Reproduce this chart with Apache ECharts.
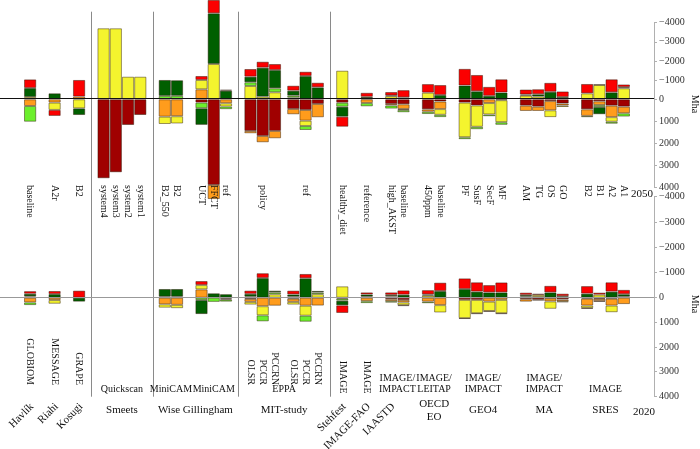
<!DOCTYPE html>
<html><head><meta charset="utf-8">
<script src="https://cdn.jsdelivr.net/npm/echarts/dist/echarts.min.js"></script>
<style>html,body{margin:0;padding:0;background:#fff}#c{width:700px;height:449px}</style>
</head><body><div id="c"></div>
<script>
// ---- structure: b = bar, g = gap, s = gap with separator, h = half gap
const columns = ['b','g','b','g','b','s','b','b','b','b','s','b','b','g','b','b','b','s','b','b','b','h','b','b','b','s','b','g','b','g','b','b','g','b','b','g','b','b','b','b','g','b','b','b','b','g','b','b','b','b'];

// ---- 2050 values (Mha), one entry per bar
const darkRed2050    = [0,0,0, 3590,3318,1168,714, 0,0,150,3895,0, 1440,1668,1440,441,486,213, 155,0,213,227,455,100, 150,280,0,40, 290,335,80,190, 455,90,290,335];
const orange2050     = [305,150,-140, 0,0,0,0, 790,770,-522,640,180, 105,286,333,241,486,605, 0,170,70,212,110,345, 0,0,170,0, 240,195,420,90, 300,170,520,300];
const yellow2050     = [-120,333,410, -3707,-3707,-1180,-1180, 333,330,-486,-1843,150, -695,-136,-365,-84,241,0, -1493,-50,-160,50,-345,260, 1573,970,520,1000, -190,-140,310,70, -310,-747,210,-575];
const lightGreen2050 = [714,0,0, 0,0,0,0, -175,-180,255,0,120, -193,0,-209,-104,182,0, 182,150,140,100,105,105, 90,110,80,120, 0,0,0,0, 60,90,90,150];
const darkGreen2050  = [-470,-313,305, 0,0,0,0, -835,-815,758,-2648,-450, -292,-1514,-955,-261,-1216,-626, 455,-80,-40,-100,0,-225, -720,-420,-180,-355, -60,-125,-390,-120, 0,330,-365,-60];
const red2050        = [-450,273,-870, 0,0,0,0, 0,0,-209,-700,-50, -402,-313,-313,-261,-224,-240, 455,-210,-180,-380,-450,-520, -870,-850,-470,-690, -260,-260,-470,-290, -490,-30,-680,-140];

// ---- 2020 values (Mha)
const darkRed2020    = [0,0,0, 0,0,0,0, 0,0,0,0,0, 50,0,0,40,0,0, 40,0,60,95,0,0, 90,90,0,0, 60,80,20,70, 40,50,40,-40];
const orange2020     = [190,95,0, 0,0,0,0, 270,290,-330,0,40, 120,345,325,130,325,320, 0,140,80,95,160,300, 0,0,160,90, 100,-30,130,70, 280,80,280,260];
const yellow2020     = [-50,150,0, 0,0,0,0, 135,135,-170,0,40, 110,370,-135,110,405,-140, -450,-40,-50,110,-80,300, 740,540,380,540, -40,-80,300,50, 100,-120,270,0];
const lightGreen2020 = [110,0,0, 0,0,0,0, -40,-40,95,170,80, -40,245,-80,-40,245,-70, 80,80,60,40,65,0, 30,30,30,30, 0,0,0,0, 30,40,0,0];
const darkGreen2020  = [-105,-145,160, 0,0,0,0, -305,-305,570,-175,-140, -110,-780,-65,-90,-770,-60, 190,-90,-60,-120,-50,-265, -345,-240,-210,-210, -70,30,-210,-60, -160,0,-240,-100];
const red2020        = [-105,-120,-280, 0,0,0,0, 0,0,-160,0,0, -130,-190,0,-150,-170,0, 310,-80,-100,-170,-170,-330, -420,-370,-290,-395, -90,-50,-260,-100, -300,-80,-370,-170];

// ---- labels
const scenarioLabels2050 = ['baseline','A2r','B2','system4','system3','system2','system1','B2_550','B2','UCT','FFCT','ref','','','','','','','healthy_diet','reference','high_AKST','baseline','450ppm','baseline','PF','SusF','SecF','MF','AM','TG','OS','GO','B2','B1','A2','A1'];
const scenarioGroups2050 = [['policy',12,14],['ref',15,17]];
const modelLabelsRot2020 = [['GLOBIOM',0],['MESSAGE',1],['GRAPE',2],['OLSR',12],['PCCR',13],['PCCRN',14],['OLSR',15],['PCCR',16],['PCCRN',17]];
const modelLabelsRotLow2020 = [['IMAGE',18],['IMAGE',19]];
const modelGroups2020 = [['Quickscan',3,6],['MiniCAM',7,8],['MiniCAM',9,11],['EPPA',12,17],['IMAGE/\nIMPACT',20,21],['IMAGE/\nLEITAP',22,23],['IMAGE/\nIMPACT',24,27],['IMAGE/\nIMPACT',28,31],['IMAGE',32,35]];
const studiesFlat = [['Smeets',3,6],['Wise Gillingham',7,11],['MIT-study',12,17],['OECD\nEO',22,23],['GEO4',24,27],['MA',28,31],['SRES',32,35]];
const studiesSlanted = [['Havlík',0],['Riahi',1],['Kosugi',2],['Stehfest',18],['IMAGE-FAO',19],['IAASTD',20]];
const yearLabels = ['2050','2020'];
const unitLabel = 'Mha';
const seriesNames = ['dark red','orange','yellow','light green','dark green','red'];

// ---- layout
const colors = ['#a00000','#ff9c1c','#f4f42e','#6cef2c','#005f00','#fb0000'];
const H = 6.121, N = 103, LEFT = 24 - H/2;
const FONT = '"Liberation Serif", "Times New Roman", serif';

const centers = [], seps = [];
let pos = 0;
columns.forEach(t => {
  if (t === 'b') { centers.push(pos + 1); pos += 2; }
  else if (t === 'g') pos += 2;
  else if (t === 's') { seps.push(pos + 1); pos += 2; }
  else if (t === 'h') pos += 1;
});
const cats = Array.from({length: N}, (_, i) => 'c' + i);

const grids = [
  {top: 22.7, height: 76.6, min: -4000, max: 0, sign: -1},
  {top: 99.3, height: 88.0, min: 0, max: 4000, sign: 1},
  {top: 196.7, height: 101.0, min: -4000, max: 0, sign: -1},
  {top: 297.7, height: 98.6, min: 0, max: 4000, sign: 1}
];
const panelData = [
  [darkRed2050, orange2050, yellow2050, lightGreen2050, darkGreen2050, red2050],
  [darkRed2020, orange2020, yellow2020, lightGreen2020, darkGreen2020, red2020]
];

function place(arr, sign) {
  const out = new Array(N).fill('-');
  arr.forEach((v, k) => { if (v * sign > 0) out[centers[k]] = v; });
  return out;
}

const option = {
  animation: false,
  grid: grids.map(g => ({left: LEFT, width: N * H, top: g.top, height: g.height})),
  xAxis: grids.map((g, i) => ({type: 'category', gridIndex: i, data: cats, show: false})),
  yAxis: grids.map((g, i) => ({
    type: 'value', gridIndex: i, position: 'right', offset: 2.6,
    min: g.min, max: g.max, interval: 1000, inverse: true,
    axisLine: {show: true, lineStyle: {color: '#b0b0b0', width: 1}},
    axisTick: {show: true, length: 3, lineStyle: {color: '#b0b0b0'}},
    splitLine: {show: false},
    axisLabel: {show: true, showMinLabel: g.sign < 0, margin: 5, fontFamily: FONT, fontSize: 10, color: '#333',
      formatter: v => String(v).replace('-', '\u2212')}
  })),
  series: []
};
grids.forEach((g, gi) => {
  const vals = panelData[gi < 2 ? 0 : 1];
  vals.forEach((arr, ci) => {
    option.series.push({
      type: 'bar', name: seriesNames[ci], xAxisIndex: gi, yAxisIndex: gi, stack: 'st' + gi,
      barWidth: 2 * H, clip: false, silent: true,
      data: place(arr, g.sign),
      itemStyle: {color: colors[ci], borderColor: 'rgba(40,20,0,0.45)', borderWidth: 1}
    });
  });
});

const chart = echarts.init(document.getElementById('c'), null, {renderer: 'canvas'});
chart.setOption(option);

const xOf = c => chart.convertToPixel({xAxisIndex: 0}, c);
const xBar = k => xOf(centers[k]);
const xSpan = (a, b) => (xBar(a) + xBar(b)) / 2;
const axisX = LEFT + N * H + 2.6;
const crisp = v => Math.round(v) + 0.5;
const G = [];
function txt(text, x, y, o) {
  G.push(Object.assign({type: 'text', x: x, y: y, z: 50, silent: true,
    style: Object.assign({text: text, fontFamily: FONT, fontSize: 10, fill: '#111',
      align: 'center', verticalAlign: 'middle', textAlign: 'center', textVerticalAlign: 'middle'}, o.style || {})},
    o.rotation != null ? {rotation: o.rotation} : {}));
}
function al(a, v) { return {align: a, textAlign: a, verticalAlign: v, textVerticalAlign: v}; }

// separators
seps.forEach(s => {
  const x = crisp(xOf(s));
  G.push({type: 'line', z: 40, silent: true, shape: {x1: x, y1: 11.7, x2: x, y2: 396.7}, style: {stroke: '#8a8a8a', lineWidth: 1}});
});
// zero lines
const z1 = crisp(chart.convertToPixel({yAxisIndex: 1}, 0)) - 1;
const z2 = crisp(chart.convertToPixel({yAxisIndex: 3}, 0)) - 1;
G.push({type: 'line', z: 60, silent: true, shape: {x1: 0, y1: z1, x2: axisX, y2: z1}, style: {stroke: '#111', lineWidth: 1}});
G.push({type: 'line', z: 60, silent: true, shape: {x1: 0, y1: z2, x2: axisX, y2: z2}, style: {stroke: '#999', lineWidth: 1}});

// 2050 scenario labels
scenarioLabels2050.forEach((t, k) => { if (t) txt(t, xBar(k), 185, {rotation: -Math.PI/2, style: al('left', 'middle')}); });
scenarioGroups2050.forEach(([t, a, b]) => txt(t, xSpan(a, b), 185, {rotation: -Math.PI/2, style: al('left', 'middle')}));
// 2020 model labels
modelLabelsRot2020.forEach(([t, k]) => txt(t, xBar(k), 385, {rotation: -Math.PI/2, style: al('right', 'middle')}));
modelLabelsRotLow2020.forEach(([t, k]) => txt(t, xBar(k), 393.5, {rotation: -Math.PI/2, style: al('right', 'middle')}));
modelGroups2020.forEach(([t, a, b]) => txt(t, xSpan(a, b), 395, {style: Object.assign(al('center', 'bottom'), {lineHeight: 11})}));
// studies
studiesFlat.forEach(([t, a, b]) => txt(t, xSpan(a, b), 410.5, {style: Object.assign(al('center', 'middle'), {fontSize: 11, lineHeight: 13})}));
studiesSlanted.forEach(([t, k]) => txt(t, xBar(k) + 2, 405, {rotation: Math.PI/4, style: Object.assign(al('right', 'middle'), {fontSize: 11})}));
// years & units
txt(yearLabels[0], 642, 194, {style: {fontSize: 11}});
txt(yearLabels[1], 644, 412, {style: {fontSize: 11}});
txt(unitLabel, 695, 104, {rotation: -Math.PI/2, style: {fontSize: 10}});
txt(unitLabel, 695, 304, {rotation: -Math.PI/2, style: {fontSize: 10}});

chart.setOption({graphic: G});
</script>
</body></html>
